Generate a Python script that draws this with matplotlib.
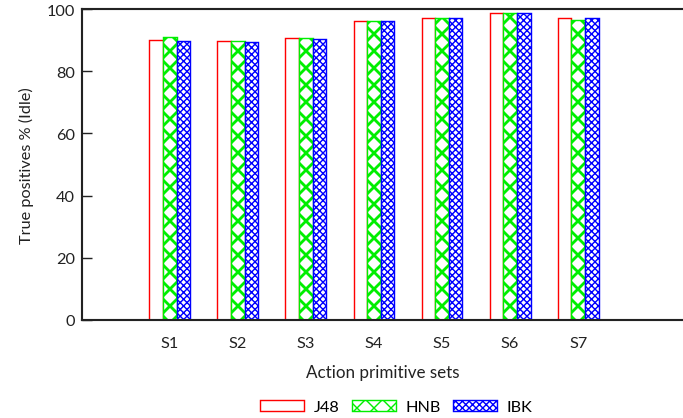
import numpy as np
import matplotlib
matplotlib.use("Agg")
import matplotlib.pyplot as plt

# values
sets = ["S1", "S2", "S3", "S4", "S5", "S6", "S7"]
j48 = [89.9, 89.7, 90.6, 96.2, 97.1, 98.7, 97.0]
hnb = [91.0, 89.6, 90.6, 96.3, 97.1, 98.7, 96.6]
ibk = [89.6, 89.3, 90.3, 96.3, 97.1, 98.6, 97.0]

plt.rcParams["font.family"] = ["Lato", "DejaVu Sans"]

# dpi chosen so the hatch period fits the group spacing
DPI = 102
fig = plt.figure(figsize=(683 / DPI, 419 / DPI), dpi=DPI)
ax = fig.add_axes([0.12, 0.234, 0.88, 0.742])

x = np.arange(1, len(sets) + 1)
w = 0.2
ax.bar(x - w, j48, w, facecolor="white", edgecolor="#ff0000", linewidth=1, label="J48")
with plt.rc_context({"hatch.linewidth": 2.0}):
    ax.bar(x, hnb, w, facecolor="white", edgecolor="#00ee00", hatch="xx", linewidth=1, label="HNB")
with plt.rc_context({"hatch.linewidth": 1.0}):
    ax.bar(x + w, ibk, w, facecolor="white", edgecolor="#0000ff", hatch="xxxxx", linewidth=1, label="IBK")

ax.set_xlim(-0.29, 8.54)
ax.set_ylim(0, 100)
ax.set_yticks([0, 20, 40, 60, 80, 100])
ax.set_xticks(x)
ax.set_xticklabels(sets)
ax.tick_params(axis="x", length=0, pad=11, labelsize=11.5, colors="#222222")
ax.tick_params(axis="y", direction="in", length=7, width=1, labelsize=11.5, colors="#222222", pad=5)
ax.spines["right"].set_visible(False)
for s in ["left", "top", "bottom"]:
    ax.spines[s].set_linewidth(1.5)
    ax.spines[s].set_color("#222222")

ax.set_xlabel("Action primitive sets", fontsize=12, color="#222222", labelpad=10)
ax.set_ylabel("True positives % (Idle)", fontsize=11.5, color="#222222", labelpad=9)

fig.legend(loc="lower center", bbox_to_anchor=(0.58, -0.025), ncol=3, frameon=False,
           fontsize=11.5, handlelength=2.7, handleheight=0.65, columnspacing=0.75,
           handletextpad=0.6)

fig.savefig("out.png", dpi=DPI)
